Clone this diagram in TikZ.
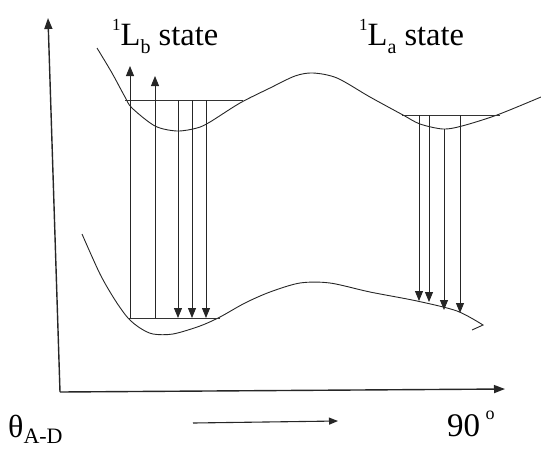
\documentclass[tikz,border=0pt]{standalone}
\usepackage{fontspec}
\setmainfont{Liberation Serif}
\usetikzlibrary{arrows.meta}
\begin{document}
\begin{tikzpicture}[x=1pt,y=-1pt,
  curve/.style={line width=0.9pt,black!85},
  level/.style={line width=0.8pt,black!80},
  trans/.style={line width=0.9pt,black!85,-{Triangle[length=10pt,width=8pt]}},
  axis/.style={line width=1.4pt,black!85,-{Triangle[length=11pt,width=8pt]}},
  lab/.style={font=\fontsize{32.5}{34}\selectfont,inner sep=0pt,anchor=base west}]
\useasboundingbox (0,0) rectangle (541,448);
% axes
\coordinate (O) at (60,392);
\coordinate (Ytop) at (48,18);
\coordinate (Xend) at (505,389);
\draw[axis] (O) -- (Ytop);
\draw[axis] (O) -- (Xend);
% lower arrow
\coordinate (A1) at (193,423);
\coordinate (A2) at (338,421);
\draw[line width=1.1pt,black!85,-{Triangle[length=9pt,width=7pt]}] (A1) -- (A2);
% upper curve
\draw[curve] plot[smooth,tension=0.5] coordinates {(97,48) (112,73) (125,97) (132,108) (155,126) (177,131) (197,128) (210,122) (240,103) (270,88) (295,76) (313,73) (337,78) (370,97) (403,115) (420,124) (443,129) (462,126) (497,115) (541,97)};
% lower curve
\draw[curve] plot[smooth,tension=0.5] coordinates {(82,234) (100,274) (115,300) (128,318) (140,328) (153,334) (173,334) (200,326) (220,317) (245,303) (270,292) (300,283) (330,283) (370,292) (417,301) (457,311) (483,325)} -- (472,330);
% levels
\coordinate (LbU1) at (125,100); \coordinate (LbU2) at (243,100);
\coordinate (LbL1) at (128,318); \coordinate (LbL2) at (220,318);
\coordinate (LaU1) at (402,115); \coordinate (LaU2) at (500,115);
\draw[level] (LbU1) -- (LbU2);
\draw[level] (LbL1) -- (LbL2);
\draw[level] (LaU1) -- (LaU2);
% Lb transitions
\coordinate (u1s) at (130,318); \coordinate (u1e) at (130,66);
\coordinate (u2s) at (155,318); \coordinate (u2e) at (155,76);
\draw[trans] (u1s) -- (u1e);
\draw[trans] (u2s) -- (u2e);
\foreach \x [count=\i] in {178,192,206}{
  \coordinate (d\i s) at (\x,100); \coordinate (d\i e) at (\x,318);
  \draw[trans] (d\i s) -- (d\i e);
}
% La transitions
\coordinate (a1s) at (419,115); \coordinate (a1e) at (419,301);
\coordinate (a2s) at (429,115); \coordinate (a2e) at (429,302);
\coordinate (a3s) at (444,129); \coordinate (a3e) at (444,310);
\coordinate (a4s) at (460,115); \coordinate (a4e) at (460,313);
\foreach \n in {a1,a2,a3,a4}{\draw[trans] (\n s) -- (\n e);}
% labels
\node[lab] (Lb) at (112,45) {\raisebox{0.45em}{\fontsize{17}{18}\selectfont 1}L\raisebox{-0.25em}{\fontsize{20}{21}\selectfont b} state};
\node[lab] (La) at (359,45) {\raisebox{0.45em}{\fontsize{17}{18}\selectfont 1}L\raisebox{-0.25em}{\fontsize{20}{21}\selectfont a} state};
\node[lab,font=\fontsize{32}{34}\selectfont] (th) at (8,437) {θ\raisebox{-0.2em}{\fontsize{22}{24}\selectfont A-D}};
\node[lab,font=\fontsize{33}{35}\selectfont] (n90) at (447,436) {90\,\raisebox{0.5em}{\fontsize{18}{20}\selectfont o}};
\end{tikzpicture}
\end{document}
